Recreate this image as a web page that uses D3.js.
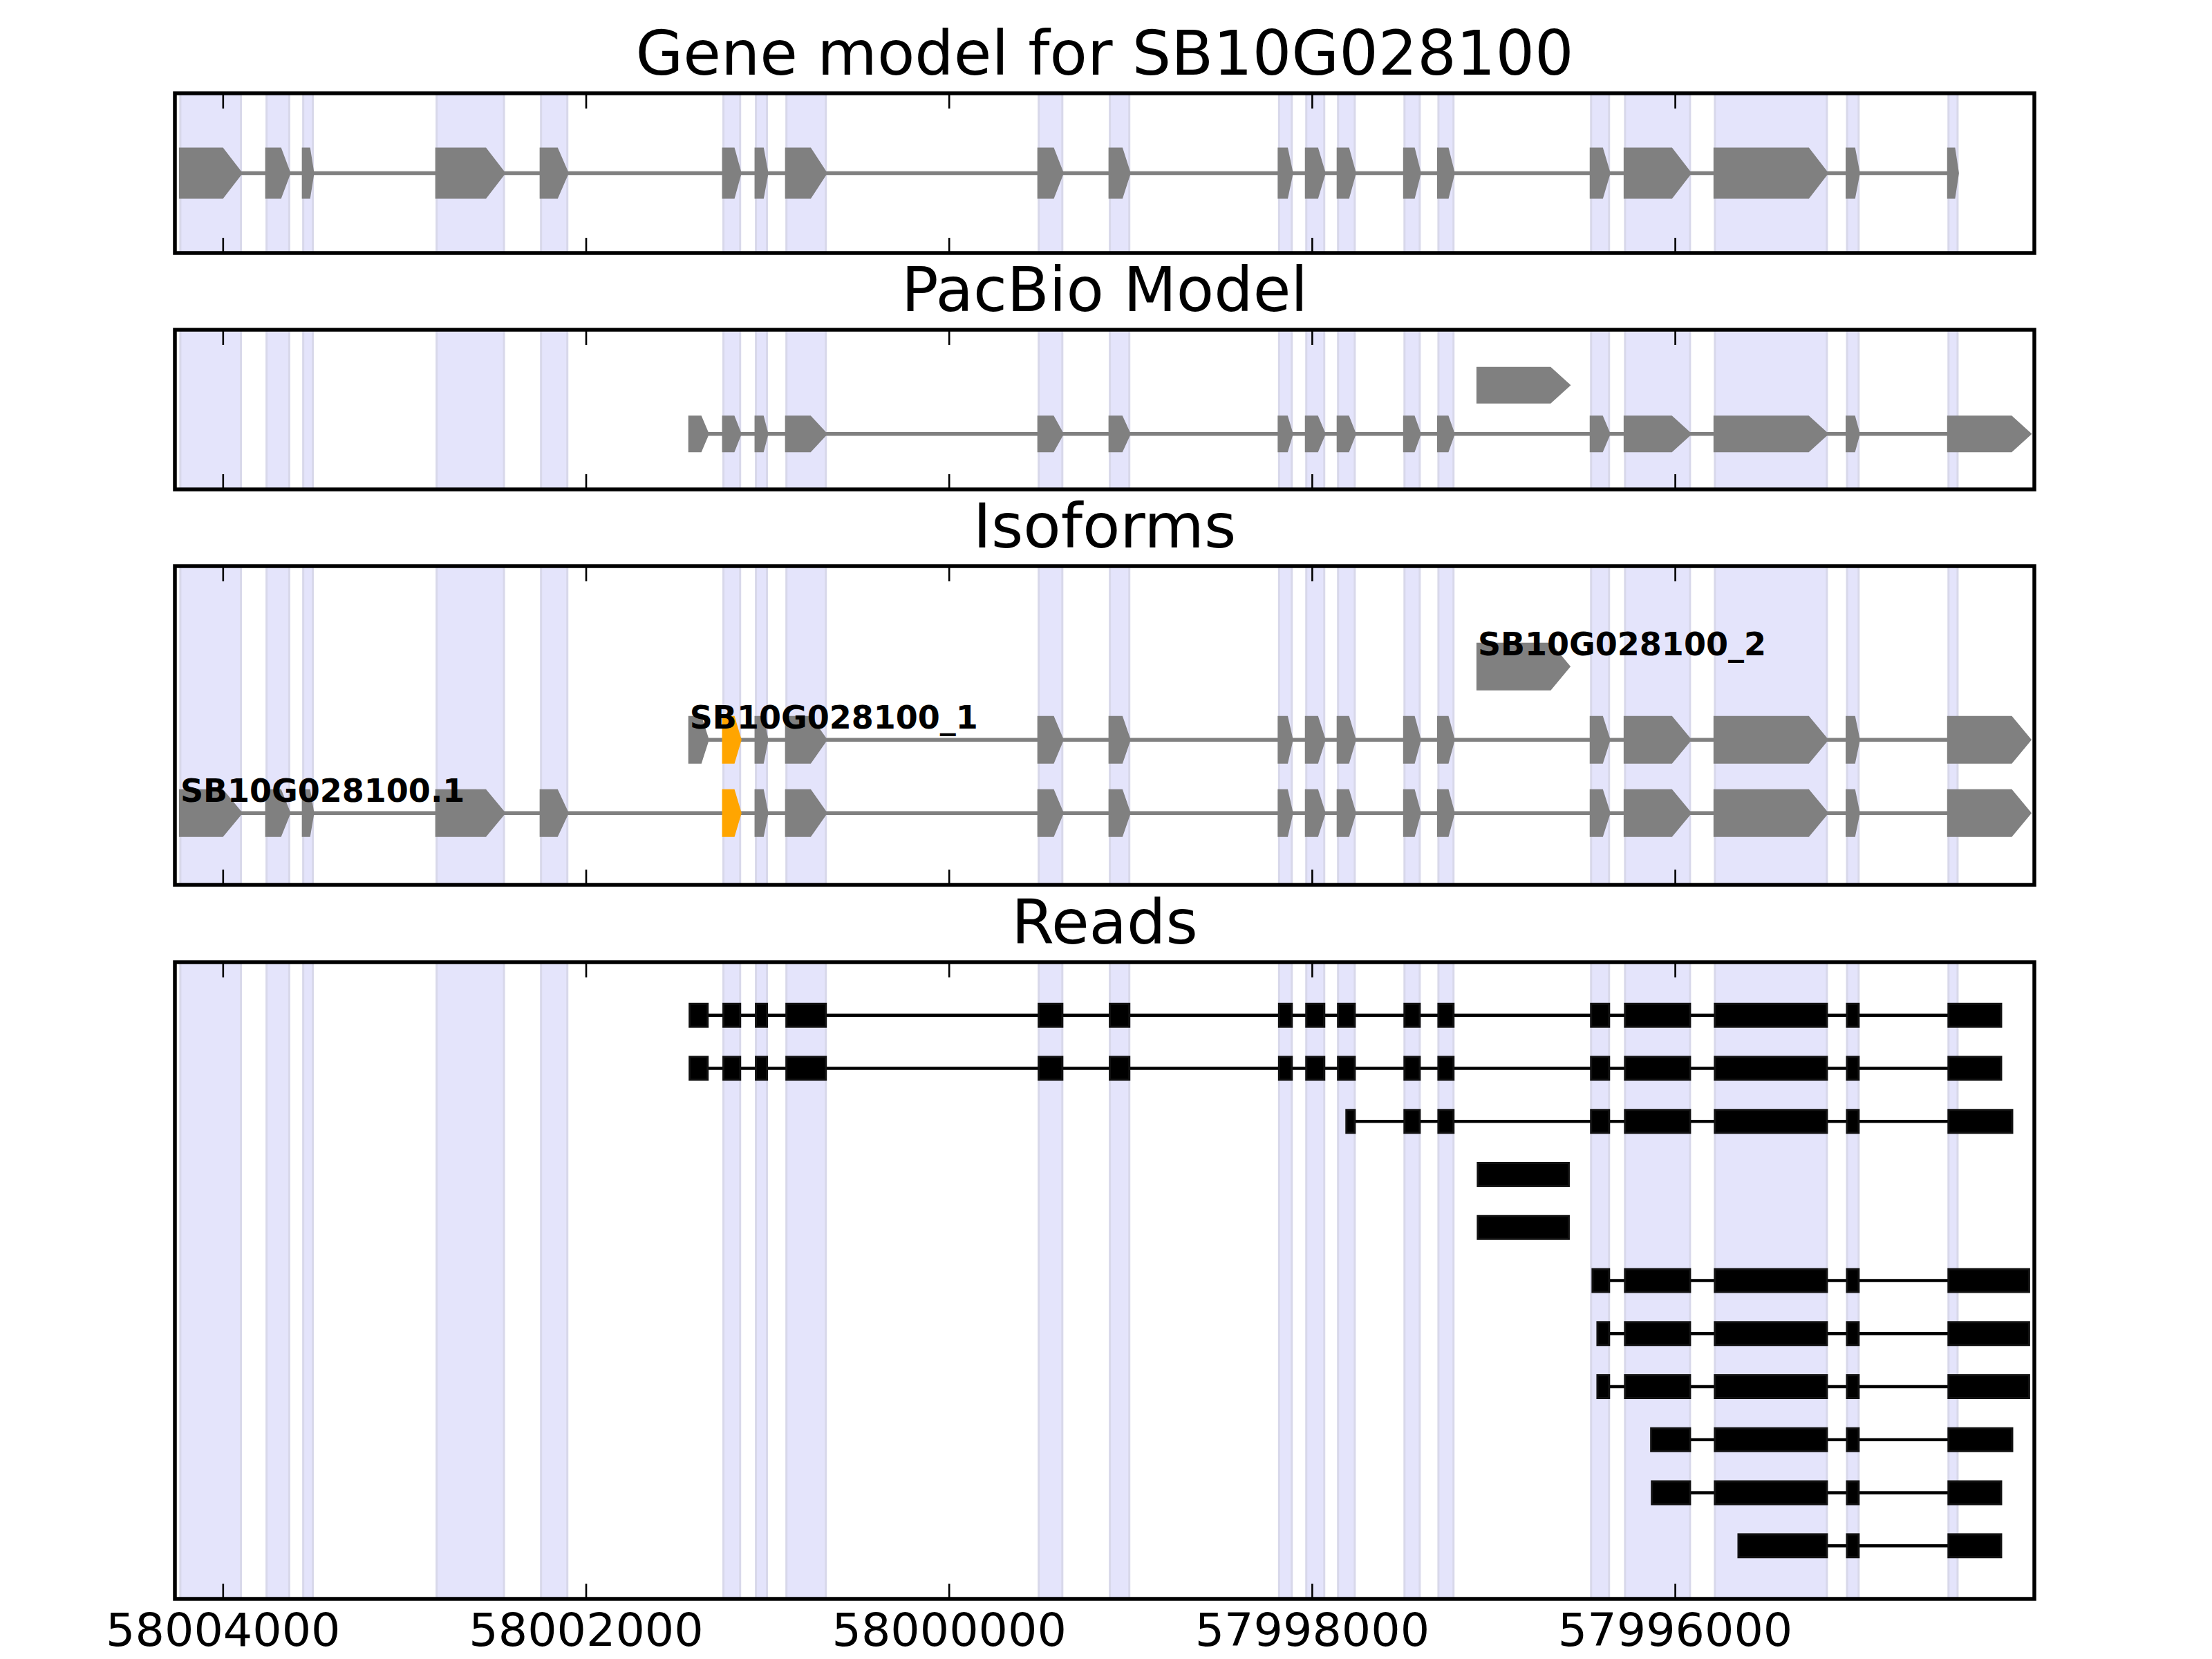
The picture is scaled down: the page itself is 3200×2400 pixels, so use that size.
<!DOCTYPE html>
<html><head><meta charset="utf-8">
<script src="https://cdn.jsdelivr.net/npm/d3@7"></script>
<style>body{margin:0;background:#fff}</style>
</head><body>
<svg id="chart" width="3200" height="2400"></svg>
<script>
// ---------------- data ----------------
const panelTitles = ["Gene model for SB10G028100", "PacBio Model", "Isoforms", "Reads"];
const tickValues = [58004000, 58002000, 58000000, 57998000, 57996000];
const xDomain = [58004264, 57994020];

// gene model exons [lo, hi] (also the shaded bands)
const geneModel = [
  [58003900, 58004234], [58003634, 58003759], [58003504, 58003557], [58002451, 58002822],
  [58002102, 58002247], [58001150, 58001242], [58001002, 58001063], [58000678, 58000895],
  [57999375, 57999505], [57999006, 57999113], [57998111, 57998181], [57997932, 57998031],
  [57997764, 57997856], [57997406, 57997490], [57997220, 57997303], [57996363, 57996462],
  [57995917, 57996275], [57995163, 57995780], [57994988, 57995052], [57994443, 57994493]
];

// PacBio model rows (row 0 lower, row 1 upper)
const pacbioLong = [
  [58001329, 58001428], [58001150, 58001242], [58001002, 58001063], [58000678, 58000895],
  [57999375, 57999505], [57999006, 57999113], [57998111, 57998181], [57997932, 57998031],
  [57997764, 57997856], [57997406, 57997490], [57997220, 57997303], [57996363, 57996462],
  [57995917, 57996275], [57995163, 57995780], [57994988, 57995052], [57994045, 57994493]
];
const pacbioShort = [[57996585, 57997086]];

// isoforms (row 0 bottom .. row 2 top)
const isoformNames = ["SB10G028100.1", "SB10G028100_1", "SB10G028100_2"];
const isoformA = [
  [58003900, 58004234], [58003634, 58003759], [58003504, 58003557], [58002451, 58002822],
  [58002102, 58002247], [58001150, 58001242], [58001002, 58001063], [58000678, 58000895],
  [57999375, 57999505], [57999006, 57999113], [57998111, 57998181], [57997932, 57998031],
  [57997764, 57997856], [57997406, 57997490], [57997220, 57997303], [57996363, 57996462],
  [57995917, 57996275], [57995163, 57995780], [57994988, 57995052], [57994045, 57994493]
];
const isoformB = [
  [58001329, 58001428], [58001150, 58001242], [58001002, 58001063], [58000678, 58000895],
  [57999375, 57999505], [57999006, 57999113], [57998111, 57998181], [57997932, 57998031],
  [57997764, 57997856], [57997406, 57997490], [57997220, 57997303], [57996363, 57996462],
  [57995917, 57996275], [57995163, 57995780], [57994988, 57995052], [57994045, 57994493]
];
const isoformC = [[57996585, 57997086]];
const highlightedExon = [58001150, 58001242];

// reads (row 1 top .. row 11 bottom)
const read1 = [
  [58001329, 58001428], [58001150, 58001242], [58001002, 58001063], [58000678, 58000895],
  [57999375, 57999505], [57999006, 57999113], [57998111, 57998181], [57997932, 57998031],
  [57997764, 57997856], [57997406, 57997490], [57997220, 57997303], [57996363, 57996462],
  [57995917, 57996275], [57995163, 57995780], [57994988, 57995052], [57994203, 57994493]
];
const read2 = [
  [58001329, 58001428], [58001150, 58001242], [58001002, 58001063], [58000678, 58000895],
  [57999375, 57999505], [57999006, 57999113], [57998111, 57998181], [57997932, 57998031],
  [57997764, 57997856], [57997406, 57997490], [57997220, 57997303], [57996363, 57996462],
  [57995917, 57996275], [57995163, 57995780], [57994988, 57995052], [57994203, 57994493]
];
const read3 = [
  [57997764, 57997810], [57997406, 57997490], [57997220, 57997303], [57996363, 57996462],
  [57995917, 57996275], [57995163, 57995780], [57994988, 57995052], [57994142, 57994493]
];
const read4 = [[57996585, 57997086]];
const read5 = [[57996585, 57997086]];
const read6 = [[57996363, 57996454], [57995917, 57996275], [57995163, 57995780], [57994988, 57995052], [57994049, 57994493]];
const read7 = [[57996363, 57996427], [57995917, 57996275], [57995163, 57995780], [57994988, 57995052], [57994049, 57994493]];
const read8 = [[57996363, 57996427], [57995917, 57996275], [57995163, 57995780], [57994988, 57995052], [57994049, 57994493]];
const read9 = [[57995917, 57996131], [57995163, 57995780], [57994988, 57995052], [57994142, 57994493]];
const read10 = [[57995917, 57996127], [57995163, 57995780], [57994988, 57995052], [57994203, 57994493]];
const read11 = [[57995163, 57995650], [57994988, 57995052], [57994203, 57994493]];
const reads = [read1, read2, read3, read4, read5, read6, read7, read8, read9, read10, read11];

// ---------------- drawing ----------------
const svg = d3.select("#chart");
svg.append("rect").attr("width", 3200).attr("height", 2400).attr("fill", "#fff");

const L = 253, R = 2943;
const x = d3.scaleLinear().domain(xDomain).range([L, R]);
const FONT = "DejaVu Sans, Liberation Sans, sans-serif";
const GRAY = "#808080", ORANGE = "#FFA500";

const panels = [
  {top: 135, bottom: 366, yDomain: [-1, 1]},
  {top: 477, bottom: 708, yDomain: [-1.14, 2.14]},
  {top: 819, bottom: 1280, yDomain: [-0.98, 3.37]},
  {top: 1392, bottom: 2313, yDomain: [12, 0]}
];
panels.forEach((p, i) => {
  p.title = panelTitles[i];
  p.y = d3.scaleLinear().domain(p.yDomain).range([p.bottom, p.top]);
  p.g = svg.append("g");
  svg.append("clipPath").attr("id", "clip" + i).append("rect")
    .attr("x", L).attr("y", p.top).attr("width", R - L).attr("height", p.bottom - p.top);
  p.g.attr("clip-path", `url(#clip${i})`);
  // bands
  p.g.selectAll("rect.band").data(geneModel).join("rect").attr("class", "band")
    .attr("x", d => x(d[1])).attr("width", d => x(d[0]) - x(d[1]))
    .attr("y", p.top).attr("height", p.bottom - p.top)
    .attr("fill", "#e4e4fb").attr("stroke", "#d8d8ea").attr("stroke-width", 3);
});

function arrowPath(d, cy, h) {
  const xl = x(d[1]), xr = x(d[0]), w = xr - xl;
  const hl = Math.min(27, 0.4 * w);
  return `M${xl},${cy - h / 2}L${xr - hl},${cy - h / 2}L${xr},${cy}L${xr - hl},${cy + h / 2}L${xl},${cy + h / 2}Z`;
}
function isHighlighted(d, hl) {
  return hl && d[0] === highlightedExon[0] && d[1] === highlightedExon[1];
}
function drawModel(g, exons, cy, h, highlight) {
  const hiMax = d3.max(exons, d => d[1]), loMin = d3.min(exons, d => d[0]);
  g.append("line").attr("x1", x(hiMax)).attr("x2", x(loMin)).attr("y1", cy).attr("y2", cy)
    .attr("stroke", GRAY).attr("stroke-width", 5.5);
  g.append("g").selectAll("path").data(exons).join("path")
    .attr("d", d => arrowPath(d, cy, h))
    .attr("fill", d => isHighlighted(d, highlight) ? ORANGE : GRAY)
    .attr("stroke", d => isHighlighted(d, highlight) ? ORANGE : GRAY)
    .attr("stroke-width", 4).attr("stroke-linejoin", "miter");
}

// Panel 1
drawModel(panels[0].g, geneModel, panels[0].y(0), 70, false);
// Panel 2
drawModel(panels[1].g, pacbioLong, panels[1].y(0), 49, false);
drawModel(panels[1].g, pacbioShort, panels[1].y(1), 49, false);
// Panel 3
const isoRows = [isoformA, isoformB, isoformC];
isoRows.forEach((ex, i) => drawModel(panels[2].g, ex, panels[2].y(i), 65, true));
isoRows.forEach((ex, i) => {
  panels[2].g.append("text").attr("x", x(d3.max(ex, d => d[1])))
    .attr("y", panels[2].y(i) - 16)
    .attr("font-family", FONT).attr("font-weight", "bold").attr("font-size", 46)
    .attr("fill", "#000").text(isoformNames[i]);
});
// Panel 4
reads.forEach((ex, i) => {
  const g = panels[3].g, cy = panels[3].y(i + 1);
  const hiMax = d3.max(ex, d => d[1]), loMin = d3.min(ex, d => d[0]);
  g.append("line").attr("x1", x(hiMax)).attr("x2", x(loMin)).attr("y1", cy).attr("y2", cy)
    .attr("stroke", "#000").attr("stroke-width", 4.5);
  g.append("g").selectAll("rect").data(ex).join("rect")
    .attr("x", d => x(d[1])).attr("width", d => x(d[0]) - x(d[1]))
    .attr("y", cy - 16.5).attr("height", 33)
    .attr("fill", "#000").attr("stroke", "#111").attr("stroke-width", 3);
});

// frames, ticks, titles
panels.forEach((p, i) => {
  const top = svg.append("g").attr("transform", `translate(0,${p.top})`)
    .call(d3.axisTop(x).tickValues(tickValues).tickSize(-22).tickFormat(""));
  const bot = svg.append("g").attr("transform", `translate(0,${p.bottom})`)
    .call(d3.axisBottom(x).tickValues(tickValues).tickSize(-22).tickPadding(21)
      .tickFormat(i === 3 ? d3.format("d") : ""));
  [top, bot].forEach(a => {
    a.select(".domain").remove();
    a.selectAll(".tick line").attr("stroke", "#000").attr("stroke-width", 2.6);
    a.selectAll(".tick text").attr("font-family", FONT).attr("font-size", 66.7).attr("fill", "#000");
  });
  svg.append("rect").attr("x", L).attr("y", p.top).attr("width", R - L).attr("height", p.bottom - p.top)
    .attr("fill", "none").attr("stroke", "#000").attr("stroke-width", 5.5);
  svg.append("text").attr("x", (L + R) / 2).attr("y", p.top - 27)
    .attr("text-anchor", "middle").attr("font-family", FONT).attr("font-size", 88.9)
    .attr("fill", "#000").text(p.title);
});
</script>
</body></html>
